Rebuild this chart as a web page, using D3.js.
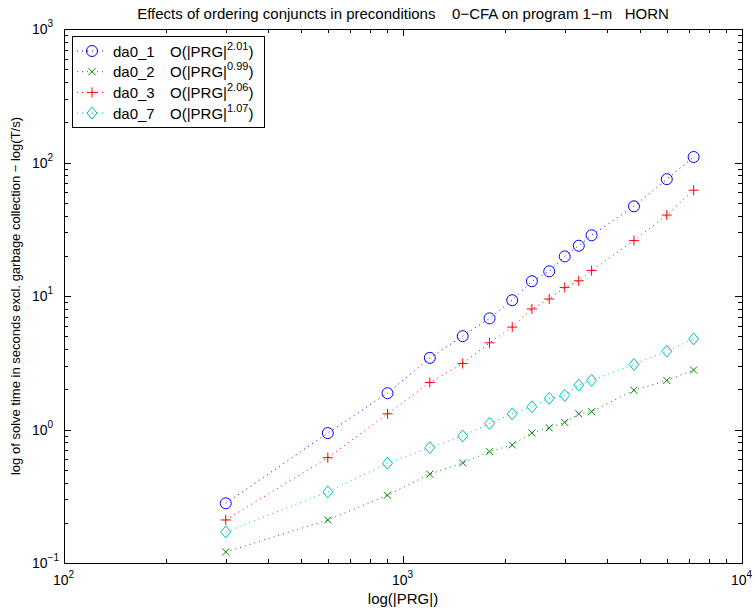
<!DOCTYPE html>
<meta charset="utf-8">
<script src="https://d3js.org/d3.v7.min.js"></script>
<style>
  body { margin: 0; background: #fff; }
  text { font-family: "Liberation Sans", Arial, sans-serif; fill: #000; }
</style>
<div id="chart"></div>
<script>
  // problem sizes |PRG| (x axis)
  var sizes = [300, 600, 900, 1200, 1500, 1800, 2100, 2400, 2700, 3000, 3300, 3600, 4800, 6000, 7200];

  // solve times per ordering variant
  var da0_1 = [0.28, 0.94, 1.87, 3.44, 5.0, 6.8, 9.3, 12.9, 15.3, 19.8, 23.8, 28.5, 47, 75, 110];
  var da0_2 = [0.121, 0.21, 0.322, 0.463, 0.562, 0.682, 0.766, 0.944, 1.03, 1.13, 1.31, 1.36, 1.97, 2.33, 2.79];
  var da0_3 = [0.21, 0.615, 1.31, 2.25, 3.12, 4.46, 5.85, 8.0, 9.5, 11.6, 13.0, 15.5, 26.0, 40.4, 62];
  var da0_7 = [0.171, 0.341, 0.559, 0.731, 0.894, 1.11, 1.31, 1.48, 1.71, 1.80, 2.15, 2.33, 3.07, 3.86, 4.77];

  var seriesNames = ["da0_1", "da0_2", "da0_3", "da0_7"];
  var exponents = ["2.01", "0.99", "2.06", "1.07"];
  var xTickExp = [2, 3, 4];
  var yTickExp = [-1, 0, 1, 2, 3];

  var series = [
    {name: "da0_1", values: da0_1, color: "#0000ff", marker: "circle"},
    {name: "da0_2", values: da0_2, color: "#008000", marker: "x"},
    {name: "da0_3", values: da0_3, color: "#ff0000", marker: "plus"},
    {name: "da0_7", values: da0_7, color: "#00bfbf", marker: "diamond"}
  ];

  var W = 755, H = 614;
  var margin = {top: 29, right: 13, bottom: 51, left: 64};
  var width = W - margin.left - margin.right,
      height = H - margin.top - margin.bottom;

  var svg = d3.select("#chart").append("svg")
    .attr("width", W).attr("height", H);

  var g = svg.append("g")
    .attr("transform", "translate(" + margin.left + "," + margin.top + ")");

  var x = d3.scaleLog().domain([100, 10000]).range([0, width]);
  var y = d3.scaleLog().domain([0.1, 1000]).range([height, 0]);

  // ticks inside the box on all four sides
  var xMinor = [], yMinor = [];
  for (var e = 2; e < 4; e++) for (var m = 2; m < 10; m++) xMinor.push(m * Math.pow(10, e));
  for (var e = -1; e < 3; e++) for (var m = 2; m < 10; m++) yMinor.push(m * Math.pow(10, e));

  var ticks = g.append("g").attr("stroke", "#000").attr("stroke-width", 1);
  xMinor.forEach(function(v) {
    var px = Math.round(x(v)) + 0.5;
    ticks.append("line").attr("x1", px).attr("x2", px).attr("y1", height).attr("y2", height - 4);
    ticks.append("line").attr("x1", px).attr("x2", px).attr("y1", 0).attr("y2", 4);
  });
  xTickExp.forEach(function(e) {
    var px = Math.round(x(Math.pow(10, e))) + 0.5;
    ticks.append("line").attr("x1", px).attr("x2", px).attr("y1", height).attr("y2", height - 7);
    ticks.append("line").attr("x1", px).attr("x2", px).attr("y1", 0).attr("y2", 7);
  });
  yMinor.forEach(function(v) {
    var py = Math.round(y(v)) + 0.5;
    ticks.append("line").attr("x1", 0).attr("x2", 4).attr("y1", py).attr("y2", py);
    ticks.append("line").attr("x1", width).attr("x2", width - 4).attr("y1", py).attr("y2", py);
  });
  yTickExp.forEach(function(e) {
    var py = Math.round(y(Math.pow(10, e))) + 0.5;
    ticks.append("line").attr("x1", 0).attr("x2", 7).attr("y1", py).attr("y2", py);
    ticks.append("line").attr("x1", width).attr("x2", width - 7).attr("y1", py).attr("y2", py);
  });

  // box
  g.append("rect")
    .attr("x", 0.5).attr("y", 0.5)
    .attr("width", width).attr("height", height)
    .attr("fill", "none").attr("stroke", "#000").attr("stroke-width", 1);

  // tick labels 10^n
  xTickExp.forEach(function(e) {
    var t = g.append("text")
      .attr("x", x(Math.pow(10, e)) - 11)
      .attr("y", height + 22)
      .attr("font-size", 14);
    t.append("tspan").text("10");
    t.append("tspan").attr("dy", -7).attr("font-size", 10).text(e);
  });
  yTickExp.forEach(function(e) {
    var t = g.append("text")
      .attr("x", -32)
      .attr("y", y(Math.pow(10, e)) + 5)
      .attr("font-size", 14);
    t.append("tspan").text("10");
    t.append("tspan").attr("dy", -7).attr("font-size", 10).text(String(e).replace("-", "\u2212"));
  });

  // dotted connecting lines
  var line = d3.line()
    .x(function(d, i) { return x(sizes[i]); })
    .y(function(d) { return y(d); });

  function drawMarker(sel, type, color) {
    if (type === "circle") {
      sel.append("circle").attr("r", 5.5).attr("fill", "none").attr("stroke", color);
    } else if (type === "x") {
      sel.append("path").attr("d", "M-3.5,-3.5L3.5,3.5M-3.5,3.5L3.5,-3.5")
        .attr("stroke", color).attr("fill", "none");
    } else if (type === "plus") {
      sel.append("path").attr("d", "M-5,0L5,0M0,-5L0,5")
        .attr("stroke", color).attr("fill", "none");
    } else if (type === "diamond") {
      sel.append("path").attr("d", "M0,-6L5,0L0,6L-5,0Z")
        .attr("stroke", color).attr("fill", "none");
    }
  }

  series.forEach(function(s) {
    g.append("path")
      .datum(s.values)
      .attr("d", line)
      .attr("fill", "none")
      .attr("stroke", s.color)
      .attr("stroke-width", 1)
      .attr("stroke-dasharray", "1,4");
    s.values.forEach(function(v, i) {
      var m = g.append("g").attr("transform", "translate(" + x(sizes[i]) + "," + y(v) + ")");
      drawMarker(m, s.marker, s.color);
    });
  });

  // legend
  var leg = g.append("g").attr("transform", "translate(8,7)");
  leg.append("rect")
    .attr("x", 0.5).attr("y", 0.5).attr("width", 192).attr("height", 91)
    .attr("fill", "#fff").attr("stroke", "#000");
  series.forEach(function(s, i) {
    var ly = 15 + i * 20.7;
    leg.append("line")
      .attr("x1", 5).attr("x2", 32).attr("y1", ly).attr("y2", ly)
      .attr("stroke", s.color).attr("stroke-dasharray", "1,4");
    drawMarker(leg.append("g").attr("transform", "translate(20," + ly + ")"), s.marker, s.color);
    leg.append("text").attr("x", 41).attr("y", ly + 5.5).attr("font-size", 15).text(seriesNames[i]);
    var t = leg.append("text").attr("x", 98).attr("y", ly + 5.5).attr("font-size", 15);
    t.append("tspan").text("O(|PRG|");
    t.append("tspan").attr("dy", -7).attr("font-size", 11).text(exponents[i]);
    t.append("tspan").attr("dy", 7).text(")");
  });

  // title and axis labels
  svg.append("text")
    .attr("x", margin.left + width / 2).attr("y", 19)
    .attr("text-anchor", "middle").attr("font-size", 15)
    .attr("xml:space", "preserve")
    .text("Effects of ordering conjuncts in preconditions    0\u2212CFA on program 1\u2212m   HORN");

  svg.append("text")
    .attr("x", margin.left + width / 2).attr("y", 604)
    .attr("text-anchor", "middle").attr("font-size", 15)
    .text("log(|PRG|)");

  svg.append("text")
    .attr("transform", "translate(20," + (margin.top + height / 2) + ") rotate(-90)")
    .attr("text-anchor", "middle").attr("font-size", 13)
    .text("log of solve time in seconds excl. garbage collection \u2212 log(T/s)");
</script>
